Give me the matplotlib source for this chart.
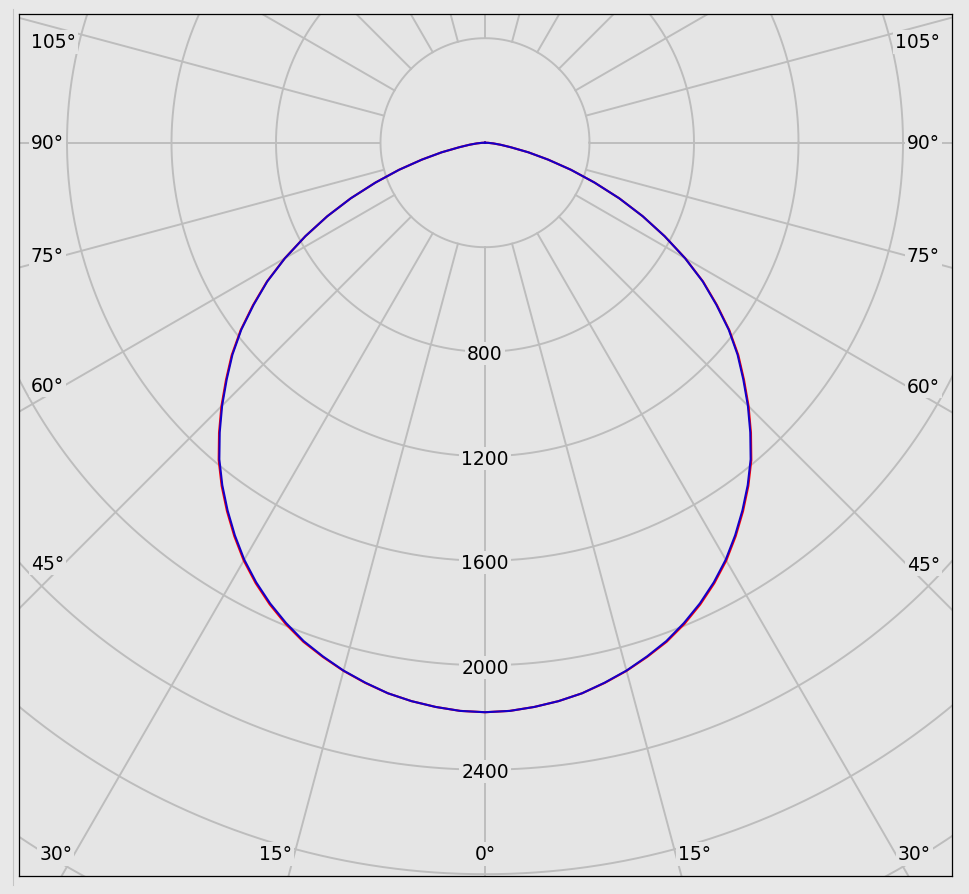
import numpy as np
import matplotlib
matplotlib.use('Agg')
from matplotlib import pyplot as plt
from matplotlib.lines import Line2D

# luminous intensity (cd) against gamma angle
gamma = [0, 2.5, 5, 7.5, 10, 12.5, 15, 17.5, 20, 22.5, 25, 27.5, 30, 32.5,
         35, 37.5, 40, 42.5, 45, 47.5, 50, 52.5, 55, 57.5, 60, 62.5, 65,
         67.5, 70, 72.5, 75, 77.5, 80, 82.5, 85, 87.5, 90]
plane_blue = [2180, 2177, 2168, 2156, 2140, 2117, 2092, 2062, 2030, 1990,
              1946, 1897, 1843, 1782, 1718, 1652, 1582, 1503, 1423, 1341,
              1262, 1176, 1081, 988, 884, 775, 666, 556, 446, 345, 250, 170,
              100, 60, 32, 12, 0]
plane_red = [2180, 2177, 2168, 2156, 2140, 2118, 2093, 2064, 2033, 1994,
             1950, 1901, 1847, 1786, 1722, 1656, 1586, 1507, 1427, 1345,
             1266, 1179, 1084, 990, 885, 775, 666, 556, 446, 345, 250, 170,
             100, 60, 32, 12, 0]

ring_values = [400, 800, 1200, 1600, 2000, 2400, 2800, 3200, 3600, 4000]
ring_labels = [800, 1200, 1600, 2000, 2400]
spoke_angles = list(range(0, 360, 15))

# layout (pixels of the 969x895 picture)
W, H = 969, 895
ax_left, ax_right, ax_top, ax_bottom = 19, 952, 15, 877
cx, cy = 485, 143.7          # pole of the diagram
k = 400 / 104.5              # cd per pixel

bg = '#e5e5e5'
grid = '#bdbdbd'

fig = plt.figure(figsize=(W / 100, H / 100), dpi=100, facecolor='#e8e8e8')
ax = fig.add_axes([ax_left / W, (H - ax_bottom) / H,
                   (ax_right - ax_left) / W, (ax_bottom - ax_top) / H])
ax.set_facecolor(bg)
xlim = ((ax_left - cx) * k, (ax_right - cx) * k)
ylim = (-(ax_bottom - cy) * k, (cy - ax_top) * k)
ax.set_xlim(xlim)
ax.set_ylim(ylim)
ax.set_xticks([])
ax.set_yticks([])
for s in ax.spines.values():
    s.set_color('black')
    s.set_linewidth(0.9)

# rings
t = np.linspace(0, 2 * np.pi, 721)
for r in ring_values:
    ax.plot(r * np.cos(t), r * np.sin(t), color=grid, lw=1.4, zorder=1)

# spokes, starting from the first ring
for a in spoke_angles:
    th = np.radians(a)
    ax.plot([400 * np.sin(th), 6000 * np.sin(th)],
            [-400 * np.cos(th), -6000 * np.cos(th)],
            color=grid, lw=1.4, zorder=1)

# intensity labels along the 0 deg spoke
for v in ring_labels:
    ax.text(0, -v - 2 * k, str(v), ha='center', va='center', fontsize=13.5,
            zorder=3, bbox=dict(facecolor=bg, edgecolor='none', pad=1.5))

# angle labels where the spokes leave the frame
lab_y_bottom = ylim[0] + 22 * k
lab_y_top = ylim[1] - 28 * k
for a in spoke_angles:
    th = np.radians(a)
    dx, dy = np.sin(th), -np.cos(th)
    name = '{}°'.format(a if a <= 180 else 360 - a)
    if abs(dx) < 1e-9:
        if dy < 0:
            ax.text(0, lab_y_bottom, name, ha='center', va='center',
                    fontsize=13.5, zorder=3,
                    bbox=dict(facecolor=bg, edgecolor='none', pad=1.5))
        continue
    # where does the spoke hit the frame?
    tx = (xlim[1] if dx > 0 else xlim[0]) / dx
    ty = (ylim[0] / dy) if dy < 0 else np.inf
    if ty < tx:
        xb = lab_y_bottom * dx / dy
        if dx > 0:
            ax.text(xb + 2 * k, lab_y_bottom, name, ha='left', va='center',
                    fontsize=13.5, zorder=3,
                    bbox=dict(facecolor=bg, edgecolor='none', pad=1.5))
        else:
            ax.text(xb - 2 * k, lab_y_bottom, name, ha='right', va='center',
                    fontsize=13.5, zorder=3,
                    bbox=dict(facecolor=bg, edgecolor='none', pad=1.5))
    else:
        ycross = (tx * dy)
        if ycross > ylim[1]:
            continue
        if dx > 0:
            xs = xlim[1] - 45 * k
            ys = min(xs * dy / dx, lab_y_top)
            ax.text(xlim[1] - 12 * k, ys, name, ha='right', va='center',
                    fontsize=13.5, zorder=3,
                    bbox=dict(facecolor=bg, edgecolor='none', pad=1.5))
        else:
            xs = xlim[0] + 45 * k
            ys = min(xs * dy / dx, lab_y_top)
            ax.text(xlim[0] + 12 * k, ys, name, ha='left', va='center',
                    fontsize=13.5, zorder=3,
                    bbox=dict(facecolor=bg, edgecolor='none', pad=1.5))

# the two C-planes, mirrored about the nadir
g = np.array(gamma, dtype=float)
g_full = np.radians(np.concatenate([-g[::-1], g[1:]]))
for vals, col, z in [(plane_red, '#ff0000', 4), (plane_blue, '#1400c8', 5)]:
    v = np.array(vals, dtype=float)
    v_full = np.concatenate([v[::-1], v[1:]])
    ax.plot(v_full * np.sin(g_full), -v_full * np.cos(g_full),
            color=col, lw=1.5, zorder=z, solid_joinstyle='round')

# thin separator on the far left
fig.add_artist(Line2D([13 / W, 13 / W], [1 - 10 / H, 1 - 886 / H],
                      color='#c4c4c4', lw=0.8))

fig.savefig('out.png', dpi=100, facecolor=fig.get_facecolor())
